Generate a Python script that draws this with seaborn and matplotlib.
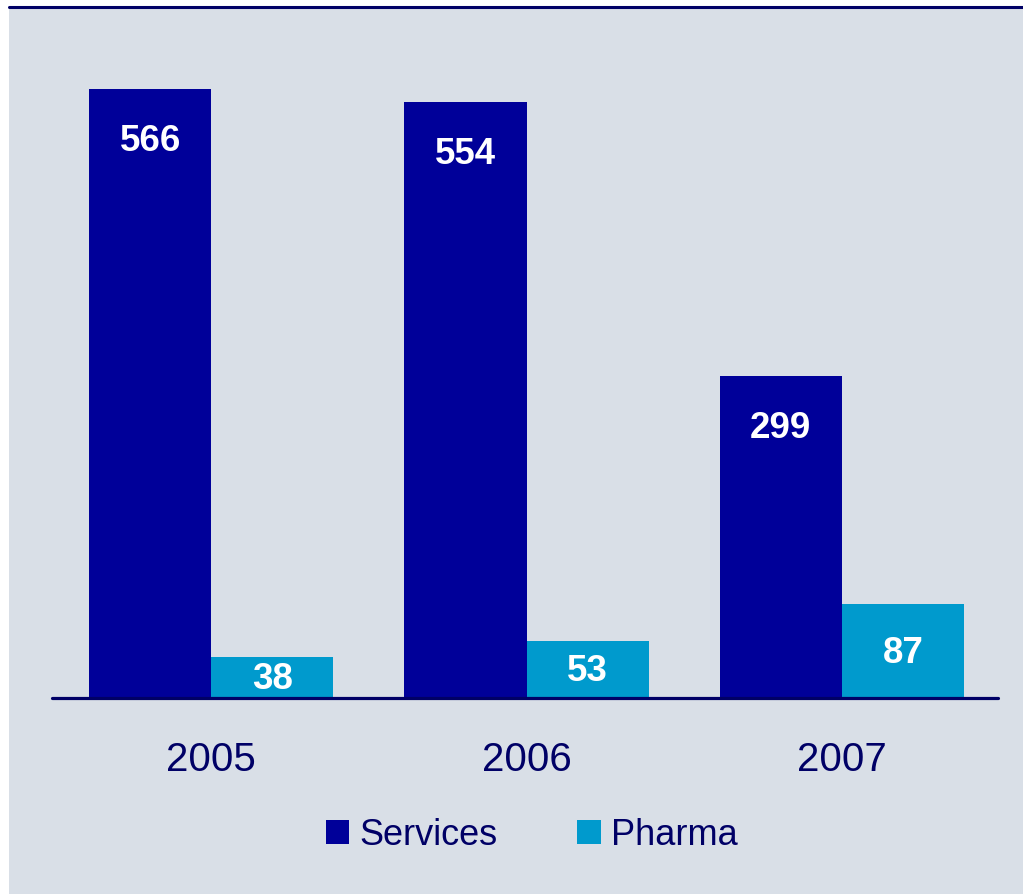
import matplotlib
matplotlib.use("Agg")
import matplotlib.pyplot as plt
from matplotlib.patches import Rectangle
from matplotlib.lines import Line2D
import seaborn as sns
import pandas as pd

years = ["2005", "2006", "2007"]
services = [566, 554, 299]
pharma = [38, 53, 87]
series_names = ["Services", "Pharma"]

NAVY = "#000066"
SERVICES_COLOR = "#000099"
PHARMA_COLOR = "#009ACD"
BG = "#D9DFE7"

sns.set_theme(style="white")
plt.rcParams["font.family"] = ["Liberation Sans", "DejaVu Sans"]

df = pd.DataFrame({
    "year": years * 2,
    "series": [series_names[0]] * len(years) + [series_names[1]] * len(years),
    "value": services + pharma,
})

W, H = 1023, 895
fig = plt.figure(figsize=(W / 100, H / 100), dpi=100, facecolor="white")

# panel background and the rule along its top edge
fig.patches.append(Rectangle((9 / W, -0.02), 1.02 - 9 / W, 1.02 - 7 / H,
                             transform=fig.transFigure, facecolor=BG,
                             edgecolor="none", zorder=-10))
fig.lines.append(Line2D([9 / W, 1], [1 - 7.5 / H, 1 - 7.5 / H],
                        transform=fig.transFigure, color=NAVY, lw=2.2,
                        zorder=-5))

ax = fig.add_axes([52 / W, 1 - 699 / H, (998 - 52) / W, (699 - 8) / H])
ax.patch.set_alpha(0)

sns.barplot(data=df, x="year", y="value", hue="series", order=years,
            hue_order=series_names,
            palette=[SERVICES_COLOR, PHARMA_COLOR], width=0.775,
            saturation=1, linewidth=0, ax=ax, zorder=2)

ax.set_xlim(-0.505, 2.495)
ax.set_ylim(0, 642)
ax.set_xlabel("")
ax.set_ylabel("")
ax.set_yticks([])
for s in ["top", "left", "right"]:
    ax.spines[s].set_visible(False)
ax.spines["bottom"].set_color(NAVY)
ax.spines["bottom"].set_linewidth(2.3)
ax.spines["bottom"].set_capstyle("round")
ax.spines["bottom"].set_zorder(3)
ax.tick_params(axis="x", length=0, pad=30.5, labelsize=29, labelcolor=NAVY)

# value labels
offset = 0.775 / 4
for i, v in enumerate(services):
    ax.text(i - offset, v - 48, str(v), ha="center", va="center",
            color="white", fontsize=26.5, fontweight="bold", zorder=4)
for i, v in enumerate(pharma):
    ax.text(i + offset, v / 2 - 1, str(v), ha="center", va="center",
            color="white", fontsize=26.5, fontweight="bold", zorder=4)

sns.move_legend(ax, loc="center", bbox_to_anchor=(532 / W, 1 - 836 / H),
                bbox_transform=fig.transFigure, ncol=2, frameon=False,
                title=None, fontsize=26, handlelength=0.64,
                handleheight=0.64, handletextpad=0.3, columnspacing=2.2,
                labelcolor=NAVY)
for h in ax.get_legend().legend_handles:
    h.set_linewidth(0)

fig.savefig("out.png", dpi=100, facecolor="white")
